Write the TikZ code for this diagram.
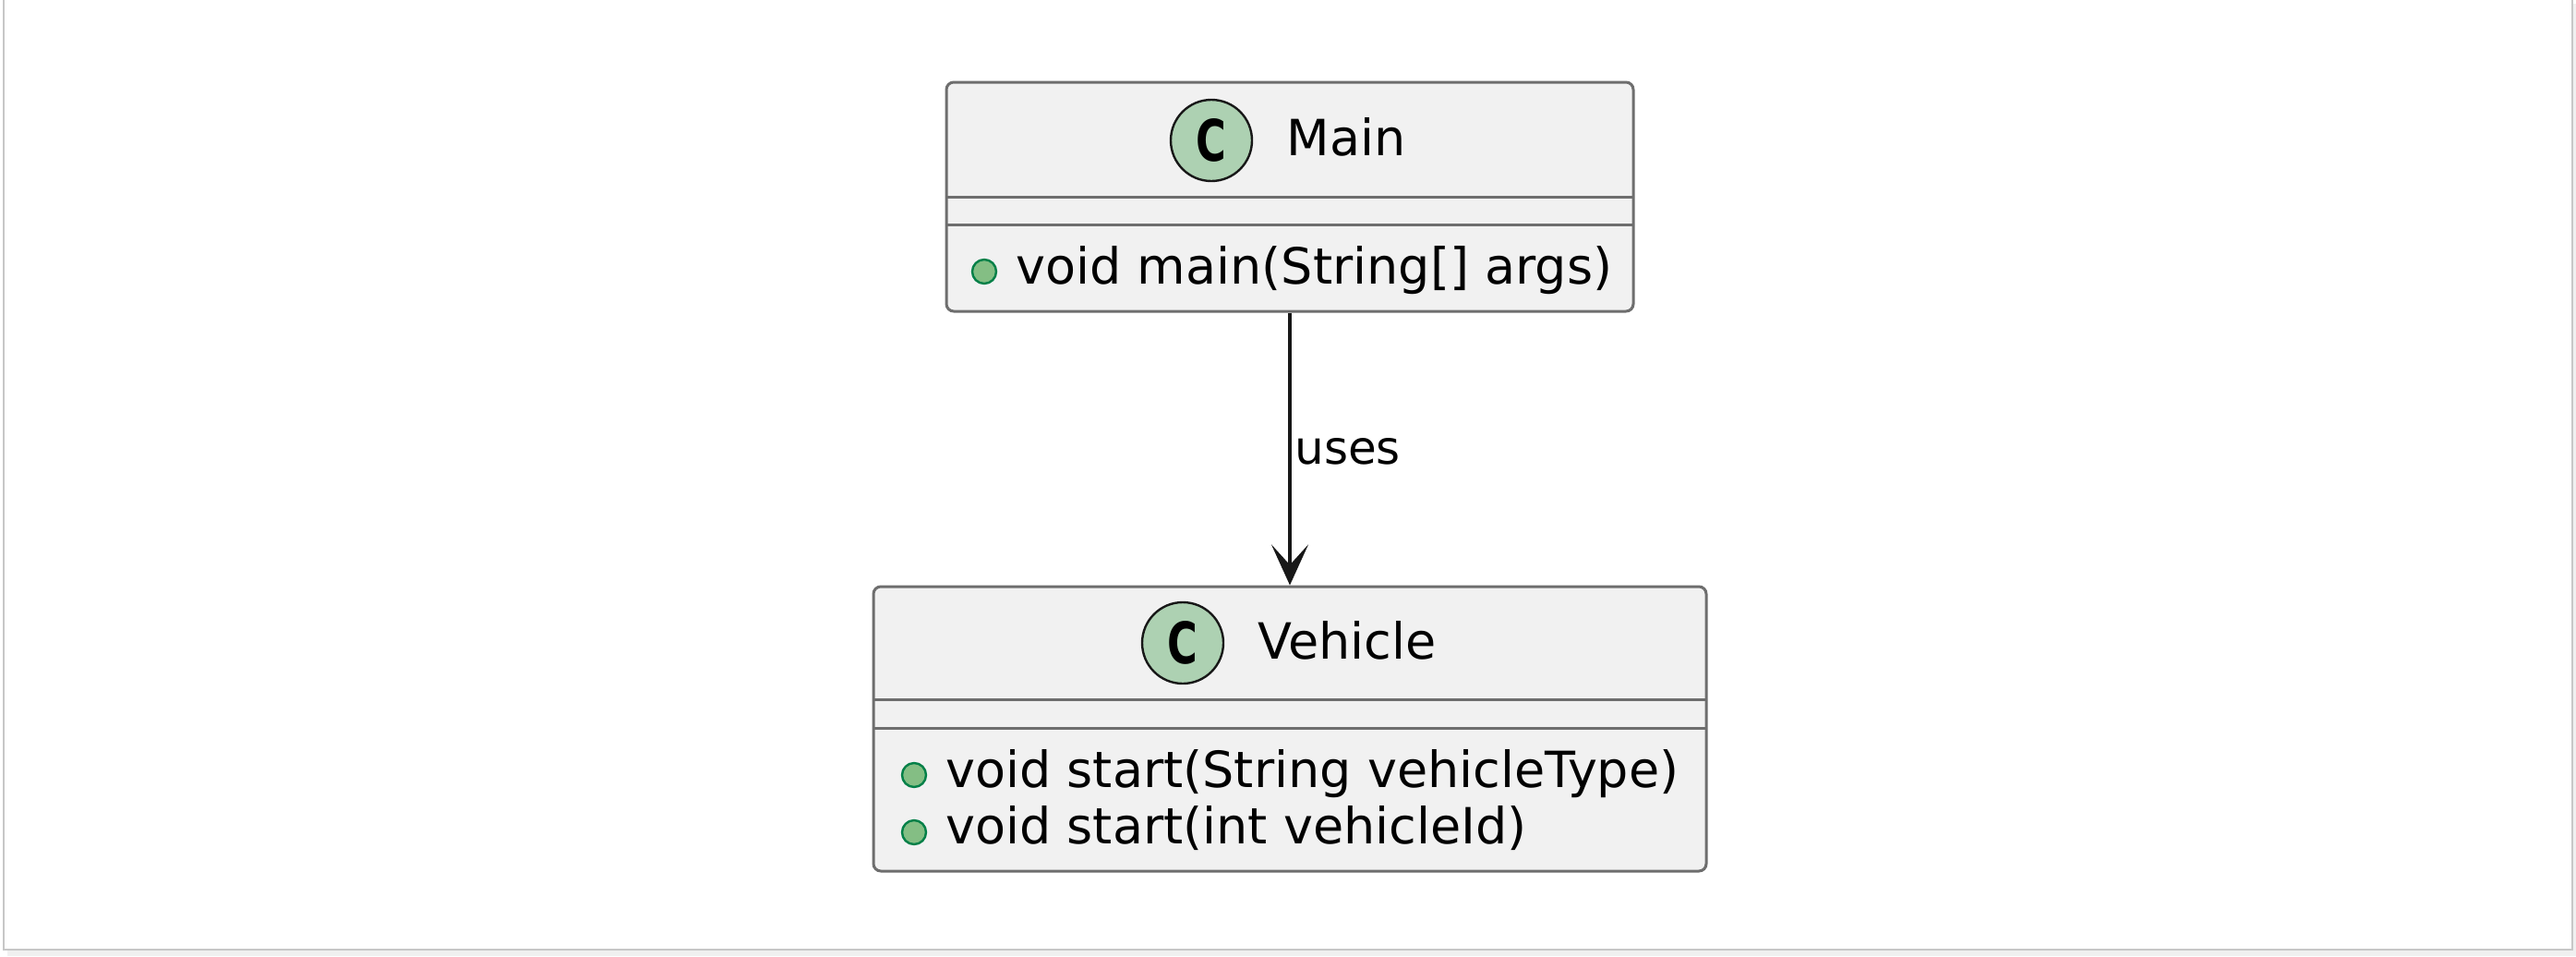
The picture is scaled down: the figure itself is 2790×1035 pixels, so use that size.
\documentclass[tikz,border=0pt]{standalone}
\usepackage{fontspec}
\setmainfont{DejaVu Sans}
\usetikzlibrary{arrows.meta}
\definecolor{boxfill}{HTML}{F1F1F1}
\definecolor{boxline}{HTML}{6E6E6E}
\definecolor{cfill}{HTML}{ADD1B2}
\definecolor{dotfill}{HTML}{84BE84}
\definecolor{dotline}{HTML}{038048}
\definecolor{ink}{HTML}{181818}
\tikzset{
  classbox/.style={draw=boxline, fill=boxfill, line width=1.5pt, rounded corners=4pt, inner sep=0pt},
  sepline/.style={draw=boxline, line width=1.5pt},
  cmark/.style={circle, draw=ink, fill=cfill, line width=1.2pt, minimum size=44pt, inner sep=0pt,
    font=\bfseries\fontsize{31}{31}\selectfont},
  vismark/.style={circle, draw=dotline, fill=dotfill, line width=1.2pt, minimum size=13pt, inner sep=0pt},
  txt/.style={anchor=base west, inner sep=0pt, text=black, font=\fontsize{27}{31}\selectfont},
  lbl/.style={anchor=base west, inner sep=0pt, text=black, font=\fontsize{25}{30}\selectfont},
  uses arrow/.style={draw=ink, line width=2pt, -{Stealth[length=22pt, width=20pt, inset=11pt]}},
}
\newcommand{\cglyph}{\scalebox{0.72}[1]{C}}
\begin{document}
\begin{tikzpicture}[x=0.5pt, y=-0.5pt]
  % page
  \useasboundingbox (0,0) rectangle (2790,1035);
  \fill[white] (0,0) rectangle (2790,1035);
  \fill[black!6] (8,1028) rectangle (2790,1035);
  \fill[black!6] (2786,4) rectangle (2790,1035);
  \draw[black!22, line width=1.2pt] (4,0) -- (4,1028) -- (2786,1028) -- (2786,0);

  % Main class
  \node[classbox, minimum width=372pt, minimum height=124pt] (main) at (1397,213) {};
  \draw[sepline] (1025,213) -- (1769,213);
  \draw[sepline] (1025,243) -- (1769,243);
  \node[cmark] (mainC) at (1312,152) {\cglyph};
  \node[txt] (mainName) at (1393,168) {Main};
  \node[vismark] (mainDot) at (1066,294) {};
  \node[txt] (mainM1) at (1100,307) {void main(String[] args)};

  % Vehicle class
  \node[classbox, minimum width=451pt, minimum height=154pt] (veh) at (1397,789) {};
  \draw[sepline] (946,757) -- (1848,757);
  \draw[sepline] (946,788) -- (1848,788);
  \node[cmark] (vehC) at (1281,696) {\cglyph};
  \node[txt] (vehName) at (1362,713) {Vehicle};
  \node[vismark] (vehDot1) at (990,839) {};
  \node[txt] (vehM1) at (1024,852) {void start(String vehicleType)};
  \node[vismark] (vehDot2) at (990,901) {};
  \node[txt] (vehM2) at (1024,913) {void start(int vehicleId)};

  % relation
  \draw[uses arrow] (main.south) -- (veh.north);
  \node[lbl] (usesLbl) at (1402,502) {uses};
\end{tikzpicture}
\end{document}
